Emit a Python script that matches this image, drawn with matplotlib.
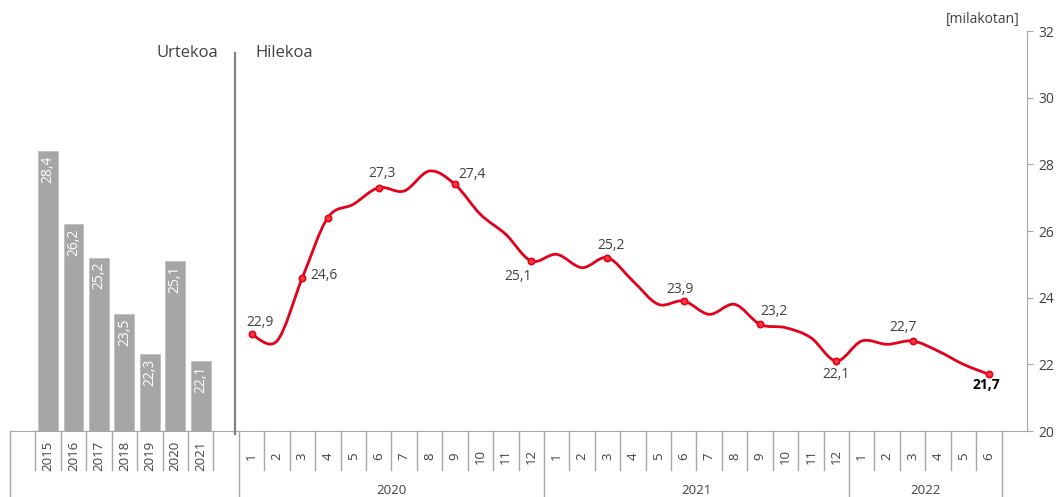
import numpy as np
import matplotlib.pyplot as plt
from matplotlib.path import Path
from matplotlib.patches import PathPatch
import matplotlib.transforms as mtransforms

plt.rcParams['font.family'] = ['Open Sans', 'DejaVu Sans']

# annual values (left block)
years = ['2015', '2016', '2017', '2018', '2019', '2020', '2021']
year_values = [28.4, 26.2, 25.2, 23.5, 22.3, 25.1, 22.1]

# monthly values (right block)
month_labels = [str(m) for m in range(1, 13)] * 2 + [str(m) for m in range(1, 7)]
month_groups = ['2020', '2021', '2022']
group_sizes = [12, 12, 6]
month_values = [22.9, 22.7, 24.6, 26.4, 26.8, 27.3, 27.2, 27.8, 27.4, 26.5, 25.9, 25.1,
                25.3, 24.9, 25.2, 24.5, 23.8, 23.9, 23.5, 23.8, 23.2, 23.1, 22.8, 22.1,
                22.7, 22.6, 22.7, 22.4, 22.0, 21.7]
marker_idx = [0, 2, 3, 5, 8, 11, 14, 17, 20, 23, 26, 29]
label_idx = [0, 2, 5, 8, 11, 14, 17, 20, 23, 26, 29]
# label offsets in pixels (dx, dy)
label_off = {0: (9, 12), 2: (22, 2), 5: (3, 14), 8: (17, 10), 11: (-13, -16),
             14: (4, 12), 17: (-4, 12), 20: (14, 13), 23: (0, -14), 26: (-10, 14),
             29: (-2, -11)}

txt = '#404040'
grid = '#a6a6a6'
red = '#e3001b'

fig = plt.figure(figsize=(10.58, 4.97), dpi=100)
ax = fig.add_axes([10 / 1058, 66 / 497, 1017 / 1058, 400 / 497])

n_cat = 40
x_years = np.arange(1, 8)
x_months = np.arange(9, 39)

ax.set_xlim(-0.5, n_cat - 0.5)
ax.set_ylim(20, 32)

# bars
ax.bar(x_years, [v - 20 for v in year_values], bottom=20, width=0.78,
       color='#a6a6a6', edgecolor='#bfbfbf', linewidth=0.6, zorder=2)
for x, v in zip(x_years, year_values):
    ax.annotate(f'{v:.1f}'.replace('.', ','), (x, v), xytext=(0, -3),
                textcoords='offset points', rotation=90, ha='center', va='top',
                color='white', fontsize=10)

# smoothed line (Catmull-Rom as cubic Bezier)
pts = np.column_stack([x_months, month_values]).astype(float)
ext = np.vstack([pts[0], pts, pts[-1]])
verts = [tuple(pts[0])]
codes = [Path.MOVETO]
for i in range(1, len(ext) - 2):
    p0, p1, p2, p3 = ext[i - 1], ext[i], ext[i + 1], ext[i + 2]
    c1 = p1 + (p2 - p0) / 6
    c2 = p2 - (p3 - p1) / 6
    verts += [tuple(c1), tuple(c2), tuple(p2)]
    codes += [Path.CURVE4] * 3
ax.add_patch(PathPatch(Path(verts, codes), facecolor='none', edgecolor=red,
                       linewidth=2.0, zorder=3, capstyle='round'))
ax.plot(x_months[marker_idx], [month_values[i] for i in marker_idx], 'o',
        ms=4.5, mfc='#ff3b3b', mec=red, mew=1.2, zorder=4)

px = 72 / 100
for i in label_idx:
    dx, dy = label_off[i]
    s = f'{month_values[i]:.1f}'.replace('.', ',')
    last = i == len(month_values) - 1
    ax.annotate(s, (x_months[i], month_values[i]), xytext=(dx * px, dy * px),
                textcoords='offset points', ha='center', va='center',
                fontsize=10, color='black' if last else txt,
                fontweight='bold' if last else 'normal')

# divider
ax.plot([8.35, 8.35], [19.9, 31.35], color='#808080', lw=1.6, clip_on=False, zorder=5)

# axes style
for s in ['top', 'left']:
    ax.spines[s].set_visible(False)
ax.spines['right'].set_color(grid)
ax.spines['bottom'].set_color(grid)
ax.yaxis.tick_right()
ax.set_yticks(np.arange(20, 33, 2))
ax.tick_params(axis='y', direction='out', length=4, color=grid, labelcolor=txt,
               labelsize=10, pad=4)
ax.set_xticks([])

# category axis
trans = mtransforms.blended_transform_factory(ax.transData, ax.transAxes)
short_y = -39 / 400
full_y = -66 / 400
lab_y = -25 / 400
grp_y = -59 / 400

ax.plot([-0.5, -0.5], [0, full_y], color=grid, lw=1, transform=trans, clip_on=False)
for b in np.arange(0.5, 8.5, 1):
    ax.plot([b, b], [0, short_y], color=grid, lw=1, transform=trans, clip_on=False)
for x, y in zip(x_years, years):
    ax.text(x, lab_y, y, rotation=90, ha='center', va='center', fontsize=9.5,
            color=txt, transform=trans)

start = 8.5
for g, n in zip(month_groups, group_sizes):
    ax.plot([start, start], [0, full_y], color=grid, lw=1, transform=trans, clip_on=False)
    for b in np.arange(start + 1, start + n, 1):
        ax.plot([b, b], [0, short_y], color=grid, lw=1, transform=trans, clip_on=False)
    ax.text(start + n / 2, grp_y, g, ha='center', va='center', fontsize=9.5,
            color=txt, transform=trans)
    start += n
ax.plot([start, start], [0, full_y], color=grid, lw=1, transform=trans, clip_on=False)
for x, m in zip(x_months, month_labels):
    ax.text(x, lab_y, m, rotation=90, ha='center', va='center', fontsize=9.5,
            color=txt, transform=trans)

# titles
ax.text(208 / 1017, 378 / 400, 'Urtekoa', ha='right', va='center', fontsize=12,
        color=txt, transform=ax.transAxes)
ax.text(245 / 1017, 378 / 400, 'Hilekoa', ha='left', va='center', fontsize=12,
        color=txt, transform=ax.transAxes)
ax.text(1010 / 1017, 411 / 400, '[milakotan]', ha='right', va='center', fontsize=10,
        color=txt, transform=ax.transAxes)

fig.savefig('out.png', dpi=100)
